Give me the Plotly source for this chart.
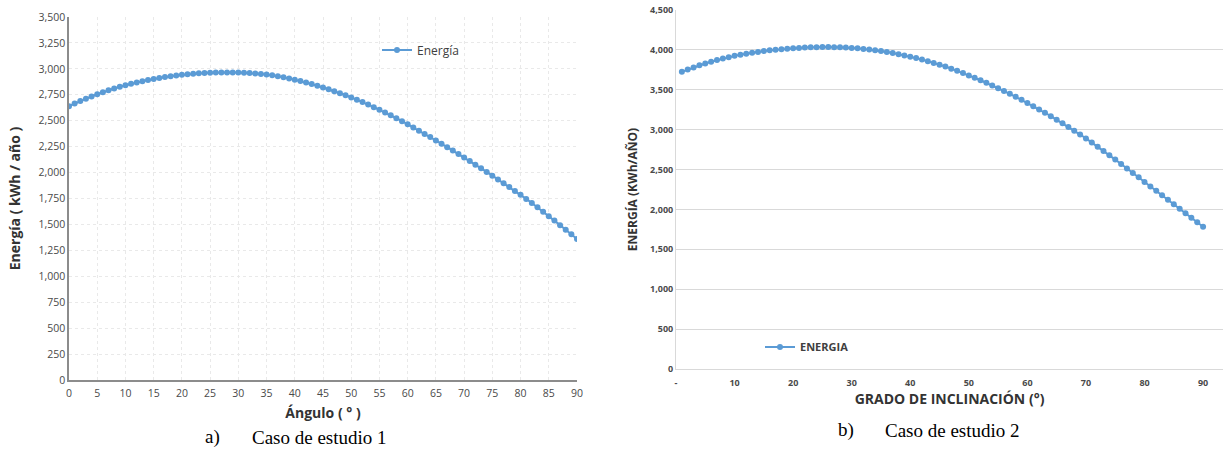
import plotly.graph_objects as go

W, H = 1223, 457

# ---------------- data ----------------
angles_1 = list(range(0, 91))
energy_1 = [2640, 2665, 2689, 2712, 2734, 2755, 2775, 2793, 2811, 2827,
            2842, 2856, 2869, 2881, 2892, 2903, 2913, 2922, 2929, 2936,
            2942, 2948, 2953, 2957, 2960, 2962, 2964, 2965, 2965, 2965,
            2964, 2962, 2959, 2955, 2950, 2945, 2938, 2929, 2919, 2908,
            2895, 2882, 2868, 2853, 2837, 2820, 2803, 2785, 2766, 2746,
            2725, 2703, 2680, 2656, 2631, 2605, 2579, 2552, 2524, 2495,
            2465, 2435, 2404, 2373, 2342, 2310, 2278, 2245, 2212, 2179,
            2145, 2111, 2076, 2041, 2006, 1970, 1934, 1897, 1860, 1823,
            1785, 1746, 1706, 1665, 1623, 1580, 1537, 1493, 1449, 1405,
            1360]

angles_2 = list(range(1, 91))
energy_2 = [3725, 3753, 3780, 3806, 3830, 3852, 3872, 3891, 3909, 3925,
            3939, 3952, 3964, 3975, 3985, 3994, 4002, 4009, 4015, 4020,
            4025, 4029, 4032, 4034, 4035, 4035, 4034, 4032, 4029, 4025,
            4019, 4012, 4004, 3995, 3985, 3973, 3960, 3946, 3931, 3915,
            3897, 3878, 3858, 3837, 3815, 3791, 3765, 3738, 3710, 3680,
            3650, 3619, 3587, 3554, 3520, 3485, 3449, 3412, 3374, 3335,
            3295, 3254, 3212, 3169, 3125, 3080, 3034, 2987, 2939, 2890,
            2839, 2787, 2734, 2680, 2625, 2570, 2514, 2458, 2402, 2345,
            2289, 2233, 2177, 2121, 2065, 2009, 1953, 1897, 1840, 1783]

x2_tick_vals = [0, 10, 20, 30, 40, 50, 60, 70, 80, 90]
x2_tick_text = ["-", "10", "20", "30", "40", "50", "60", "70", "80", "90"]

series_1_name = "Energía"
series_2_name = "ENERGIA"
caption_1 = ("a)", "Caso de estudio 1")
caption_2 = ("b)", "Caso de estudio 2")

# ---------------- style ----------------
BLUE = "#5B9BD5"
TICK = "#4a4a4a"
FONT = "Open Sans"


def px_x(p):
    return p / W


def px_y(p):
    return (H - p) / H


fig = go.Figure()

fig.add_trace(go.Scatter(
    x=angles_1, y=energy_1, name=series_1_name, mode="lines+markers",
    line=dict(color=BLUE, width=2), marker=dict(color=BLUE, size=6),
    xaxis="x", yaxis="y", legend="legend", showlegend=True))

fig.add_trace(go.Scatter(
    x=angles_2, y=energy_2, name=series_2_name, mode="lines+markers",
    line=dict(color=BLUE, width=2), marker=dict(color=BLUE, size=6),
    xaxis="x2", yaxis="y2", legend="legend2", showlegend=True))

fig.update_layout(
    width=W, height=H,
    margin=dict(l=0, r=0, t=0, b=0, autoexpand=False),
    paper_bgcolor="white", plot_bgcolor="white",
    font=dict(family=FONT, color=TICK),
    showlegend=True,
    xaxis=dict(
        domain=[px_x(69), px_x(577)], range=[0, 90], anchor="y",
        automargin=False,
        tickmode="linear", tick0=0, dtick=5,
        showgrid=True, gridcolor="#e9e9e9", griddash="dot", gridwidth=1,
        showline=True, linecolor="#8c8c8c", linewidth=1.5,
        zeroline=False, ticks="", ticklabelstandoff=3,
        tickfont=dict(size=10.5, color=TICK),
        title=dict(text="<b>Ángulo ( ° )</b>", font=dict(size=14, color="#333333"),
                   standoff=9),
    ),
    yaxis=dict(
        domain=[px_y(380), px_y(17)], range=[0, 3500], anchor="x",
        automargin=False,
        tickmode="linear", tick0=0, dtick=250, tickformat=",d",
        showgrid=True, gridcolor="#e9e9e9", griddash="dot", gridwidth=1,
        showline=True, linecolor="#8c8c8c", linewidth=1.5,
        zeroline=False, ticks="",
        tickfont=dict(size=10.5, color=TICK),
        title=dict(text="<b>Energía ( kWh / año )</b>", font=dict(size=14, color="#333333"),
                   standoff=15),
    ),
    xaxis2=dict(
        domain=[px_x(676), 1.0], range=[0, 93.4], anchor="y2",
        automargin=False,
        tickmode="array", tickvals=x2_tick_vals, ticktext=x2_tick_text,
        showgrid=False,
        showline=True, linecolor="#d9d9d9", linewidth=1,
        zeroline=False, ticks="", ticklabelstandoff=5,
        tickfont=dict(size=9, color=TICK, weight="bold"),
        title=dict(text="<b>GRADO DE INCLINACIÓN (°)</b>", font=dict(size=14, color="#333333"),
                   standoff=2),
    ),
    yaxis2=dict(
        domain=[px_y(369), px_y(10)], range=[0, 4500], anchor="x2",
        automargin=False,
        tickmode="linear", tick0=0, dtick=500, tickformat=",d",
        showgrid=True, gridcolor="#d9d9d9", gridwidth=1,
        showline=True, linecolor="#d9d9d9", linewidth=1,
        zeroline=False, ticks="",
        tickfont=dict(size=9, color=TICK, weight="bold"),
        title=dict(text="<b>ENERGÍA (KWh/AÑO)</b>", font=dict(size=12, color="#333333"),
                   standoff=9),
    ),
    legend=dict(
        x=px_x(377), y=px_y(50), xanchor="left", yanchor="middle",
        bgcolor="rgba(0,0,0,0)", font=dict(size=12, color="#404040"),
        itemwidth=30, visible=True,
    ),
    legend2=dict(
        x=px_x(760), y=px_y(347), xanchor="left", yanchor="middle",
        bgcolor="rgba(0,0,0,0)", font=dict(size=11, color="#404040", weight="bold"),
        itemwidth=30, visible=True,
    ),
)

for (x_lab, x_txt, y_c, cap) in [(203, 250, 437, caption_1), (836, 883, 430, caption_2)]:
    fig.add_annotation(x=px_x(x_lab), y=px_y(y_c), xref="paper", yref="paper",
                       xanchor="left", yanchor="middle", showarrow=False,
                       text=cap[0], font=dict(family="Liberation Serif", size=19, color="black"))
    fig.add_annotation(x=px_x(x_txt), y=px_y(y_c), xref="paper", yref="paper",
                       xanchor="left", yanchor="middle", showarrow=False,
                       text=cap[1], font=dict(family="Liberation Serif", size=19, color="black"))

fig.write_html("out.html",
               config={"displayModeBar": False},
               post_script="document.body.style.margin='0';document.body.style.overflow='hidden';")
